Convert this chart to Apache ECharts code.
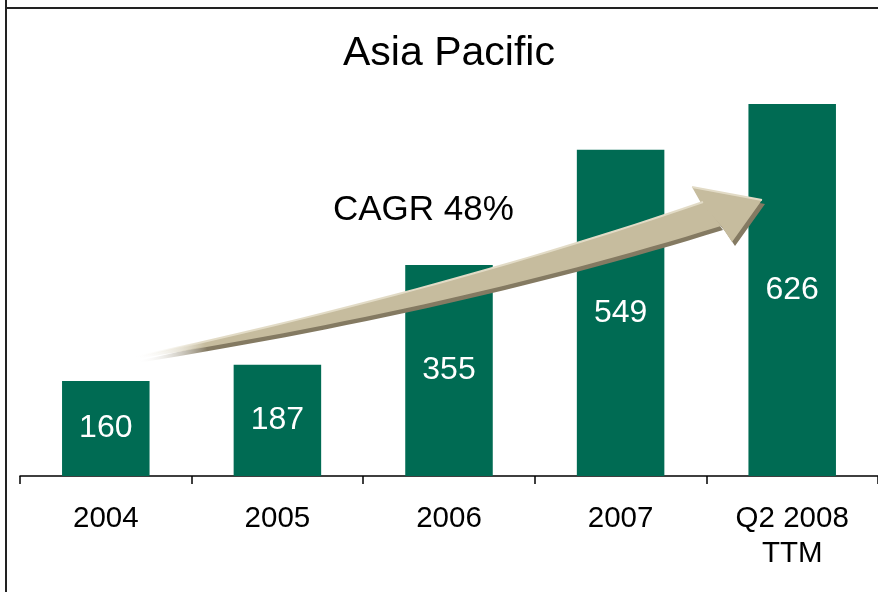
<!DOCTYPE html>
<html>
<head>
<meta charset="utf-8">
<style>
  html, body { margin: 0; padding: 0; background: #fff; }
  #main { width: 878px; height: 592px; }
</style>
<script src="https://cdn.jsdelivr.net/npm/echarts@6/dist/echarts.min.js"></script>
</head>
<body>
<div id="main"></div>
<script>
var categories = ['2004', '2005', '2006', '2007', 'Q2 2008\nTTM'];
var revenue = [160, 187, 355, 549, 626];
var titleText = 'Asia Pacific';
var cagrText = 'CAGR 48%';

// arrow outline, sampled along two quadratic curves
function bez(p0, c, p1, n) {
    var pts = [];
    for (var i = 0; i <= n; i++) {
        var t = i / n, u = 1 - t;
        pts.push([u * u * p0[0] + 2 * u * t * c[0] + t * t * p1[0],
                  u * u * p0[1] + 2 * u * t * c[1] + t * t * p1[1]]);
    }
    return pts;
}
var upper = bez([135, 357], [450, 289], [703, 202], 30);
var lower = bez([135, 359], [460, 307], [721, 226], 30);
var shaft = upper.concat(lower.slice().reverse());
var head = [[701, 203], [692, 187], [762, 200], [732, 242], [722, 227]];

function shift(pts, dx, dy) {
    return pts.map(function (p) { return [p[0] + dx, p[1] + dy]; });
}
var fade = function (c) {
    return {
        type: 'linear', x: 0, y: 0, x2: 1, y2: 0,
        colorStops: [
            { offset: 0, color: 'rgba(255,255,255,0)' },
            { offset: 0.12, color: c },
            { offset: 1, color: c }
        ]
    };
};

var chart = echarts.init(document.getElementById('main'));
var option = {
    animation: false,
    backgroundColor: '#fff',
    title: {
        text: titleText,
        left: 338,
        top: 28,
        textStyle: { fontFamily: 'Liberation Sans', fontSize: 41, fontWeight: 'normal', color: '#000' }
    },
    grid: { left: 20, right: 0, top: 60, bottom: 116 },
    xAxis: {
        type: 'category',
        data: categories,
        axisLine: { lineStyle: { color: '#000', width: 1.5 } },
        axisTick: { show: true, length: 8, lineStyle: { color: '#000', width: 1.5 } },
        axisLabel: {
            margin: 25,
            fontFamily: 'Liberation Sans',
            fontSize: 29.5,
            lineHeight: 35,
            color: '#000',
            interval: 0
        }
    },
    yAxis: {
        type: 'value',
        min: 0,
        max: 700,
        show: false,
        splitLine: { show: false }
    },
    series: [{
        type: 'bar',
        data: revenue,
        barWidth: '51%',
        itemStyle: { color: '#006B53' },
        label: {
            show: true,
            position: 'inside',
            fontFamily: 'Liberation Sans',
            fontSize: 32,
            color: '#fff'
        }
    }],
    graphic: [
        { type: 'line', shape: { x1: 6, y1: 0, x2: 6, y2: 592 }, style: { stroke: '#222', lineWidth: 2 } },
        { type: 'line', shape: { x1: 5, y1: 8, x2: 878, y2: 8 }, style: { stroke: '#222', lineWidth: 2 } },
        { type: 'polygon', shape: { points: shift(shaft, 2, 4) }, style: { fill: fade('#847a62') }, z: 100 },
        { type: 'polygon', shape: { points: shift(head, 3, 4) }, style: { fill: '#847a62' }, z: 100 },
        { type: 'polygon', shape: { points: shaft }, style: { fill: fade('#c6bc9e') }, z: 101 },
        { type: 'polygon', shape: { points: head }, style: { fill: '#c6bc9e' }, z: 101 },
        { type: 'polyline', shape: { points: upper }, style: { stroke: fade('#e2dbc6'), lineWidth: 2, fill: null }, z: 102 },
        { type: 'polyline', shape: { points: [[692, 187], [762, 200]] }, style: { stroke: '#e2dbc6', lineWidth: 2, fill: null }, z: 102 },
        {
            type: 'text', left: 333, top: 193, z: 103,
            style: { text: cagrText, font: '35px "Liberation Sans"', fill: '#000' }
        }
    ]
};
chart.setOption(option);
</script>
</body>
</html>
